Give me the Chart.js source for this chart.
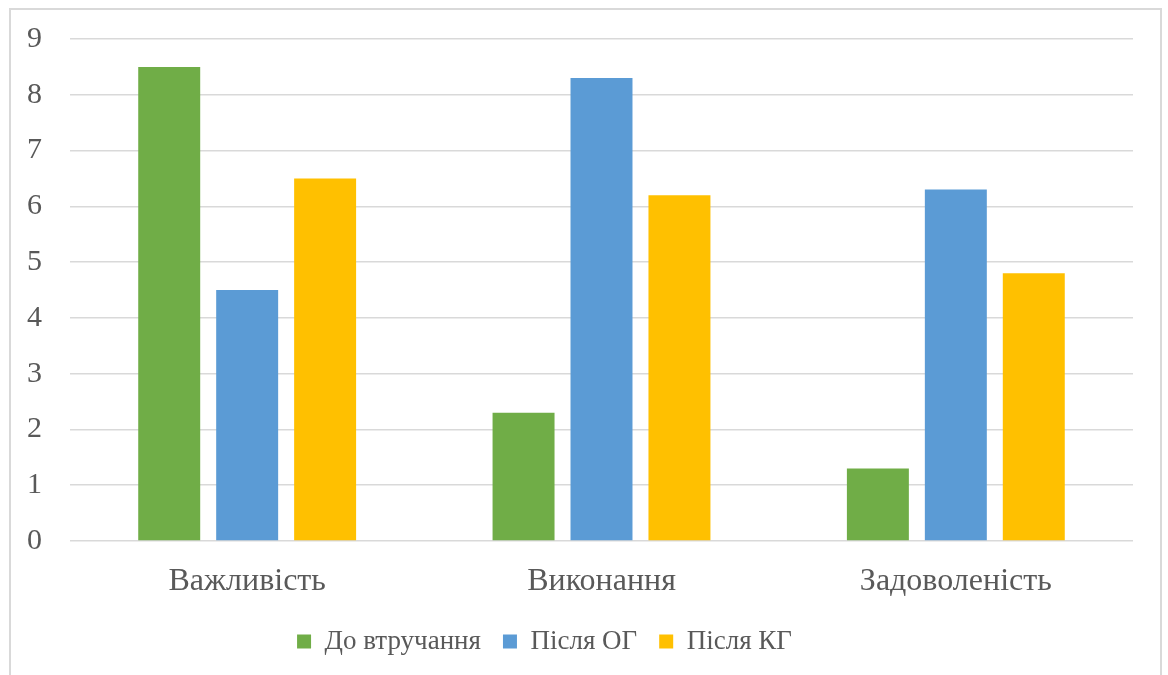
<!DOCTYPE html>
<html>
<head>
<meta charset="utf-8">
<script src="https://cdn.jsdelivr.net/npm/chart.js@4/dist/chart.umd.min.js"></script>
<style>
  html, body { margin: 0; padding: 0; background: #fff; }
  #wrap { position: relative; width: 1168px; height: 675px; }
</style>
</head>
<body>
<div id="wrap"><canvas id="chart" width="1168" height="675"></canvas></div>
<script>
// Categories and series
const categories = ['Важливість', 'Виконання', 'Задоволеність'];
const beforeIntervention = [8.5, 2.3, 1.3];   // До втручання
const afterOG = [4.5, 8.3, 6.3];              // Після ОГ
const afterKG = [6.5, 6.2, 4.8];              // Після КГ
const seriesNames = ['До втручання', 'Після ОГ', 'Після КГ'];
const yTicks = [0, 1, 2, 3, 4, 5, 6, 7, 8, 9];

const FONT = '"Liberation Serif", "Times New Roman", serif';
const TEXT = '#595959';
const GRID = '#d9d9d9';

// Frame around the whole chart
const framePlugin = {
  id: 'frame',
  beforeDraw(chart) {
    const ctx = chart.ctx;
    ctx.save();
    ctx.fillStyle = '#fff';
    ctx.fillRect(0, 0, chart.width, chart.height);
    ctx.strokeStyle = GRID;
    ctx.lineWidth = 2;
    ctx.strokeRect(10, 9, 1151, 700);
    ctx.restore();
  },
  // nudge the legend row a little to the left of centre
  afterLayout(chart) {
    if (chart.legend) {
      chart.legend.left -= 27;
      chart.legend.right -= 27;
    }
  }
};

new Chart(document.getElementById('chart'), {
  type: 'bar',
  data: {
    labels: categories,
    datasets: [
      { label: seriesNames[0], data: beforeIntervention, backgroundColor: '#70AD47' },
      { label: seriesNames[1], data: afterOG, backgroundColor: '#5B9BD5' },
      { label: seriesNames[2], data: afterKG, backgroundColor: '#FFC000' }
    ]
  },
  options: {
    responsive: false,
    animation: false,
    devicePixelRatio: 1,
    layout: { padding: { left: 10, right: 35, top: 39, bottom: 10 } },
    datasets: { bar: { categoryPercentage: 0.66, barPercentage: 0.795 } },
    plugins: {
      legend: {
        position: 'bottom',
        labels: {
          font: { family: FONT, size: 27 },
          color: TEXT,
          boxWidth: 14,
          boxHeight: 14,
          padding: 22
        }
      },
      tooltip: { enabled: false }
    },
    scales: {
      x: {
        grid: { display: false },
        border: { display: false },
        afterFit(scale) { scale.height = 65; },
        ticks: { font: { family: FONT, size: 32 }, color: TEXT, padding: 13 }
      },
      y: {
        min: 0,
        max: 9,
        afterFit(scale) { scale.width = 60; },
        afterBuildTicks(scale) { scale.ticks = yTicks.map(v => ({ value: v })); },
        // invisible tick marks keep the labels clear of the plot edge
        grid: { color: GRID, lineWidth: 1.5, drawTicks: true, tickLength: 28, tickColor: 'rgba(0,0,0,0)' },
        border: { display: false },
        ticks: { font: { family: FONT, size: 30 }, color: TEXT, padding: 0 }
      }
    }
  },
  plugins: [framePlugin]
});
</script>
</body>
</html>
